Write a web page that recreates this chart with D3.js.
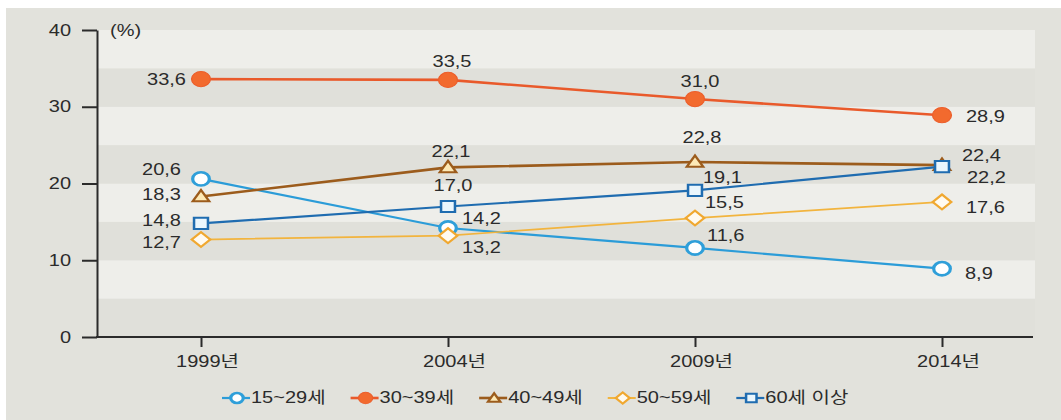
<!DOCTYPE html>
<html><head><meta charset="utf-8">
<script src="https://cdn.jsdelivr.net/npm/d3@7/dist/d3.min.js"></script>
<style>
html,body{margin:0;padding:0;background:#fff;}
svg{display:block;}
text{font-family:"Liberation Sans","Noto Sans CJK KR",Arial,sans-serif;fill:#2b2b2b;}
</style></head>
<body>
<svg id="chart" width="1061" height="420"></svg>
<script>
// ---- data ----
const years = ["1999", "2004", "2009", "2014"];
const yearLabels = ["1999년", "2004년", "2009년", "2014년"];
const seriesNames = ["15~29세", "30~39세", "40~49세", "50~59세", "60세 이상"];
const age15to29 = [20.6, 14.2, 11.6, 8.9];
const age30to39 = [33.6, 33.5, 31.0, 28.9];
const age40to49 = [18.3, 22.1, 22.8, 22.4];
const age50to59 = [12.7, 13.2, 15.5, 17.6];
const age60plus = [14.8, 17.0, 19.1, 22.2];
const yTicks = [0, 10, 20, 30, 40];

// ---- styles / label placement (not data) ----
const styles = [
  {line:"#2b9cd8", width:2.2, marker:"circle",   stroke:"#2f9fd9", fill:"#ffffff"},
  {line:"#e95a2b", width:2.6, marker:"dot",      stroke:"#ec5e2b", fill:"#f26a2e"},
  {line:"#9c5c1c", width:2.6, marker:"triangle", stroke:"#9c5c1c", fill:"#fde9b5"},
  {line:"#f2b43e", width:1.7, marker:"diamond",  stroke:"#f0a830", fill:"#fffaf0"},
  {line:"#1f6cb0", width:2.2, marker:"square",   stroke:"#1f6cb0", fill:"#eaf6fd"}
];
// [dx, dy, anchor]
const labelPlace = [
  [[-20,-9,"end"],[14,-9,"start"],[12,-12,"start"],[23,5,"start"]],
  [[-15,1,"end"],[4,-18,"middle"],[5,-17,"middle"],[24,2,"start"]],
  [[-20,-2,"end"],[3,-16,"middle"],[7,-24,"middle"],[20,-9,"start"]],
  [[-20,3,"end"],[14,12,"start"],[10,-15,"start"],[24,6,"start"]],
  [[-20,-3,"end"],[5,-21,"middle"],[8,-13,"start"],[25,11,"start"]]
];
const SX = 1.25; // horizontal stretch of the original picture

const allSeries = [age15to29, age30to39, age40to49, age50to59, age60plus];
const svg = d3.select("#chart");

// background
svg.append("rect").attr("x",6).attr("y",8).attr("width",1055).attr("height",412).attr("fill","#e2e2dc");

const x = d3.scalePoint().domain(years).range([201, 942]);
const y = d3.scaleLinear().domain([0, 40]).range([337, 30]);
const plotLeft = 97, plotRight = 1035;

// bands
svg.append("g").selectAll("rect").data(d3.range(0, 40, 5)).join("rect")
  .attr("x", plotLeft).attr("width", plotRight - plotLeft)
  .attr("y", d => y(d + 5)).attr("height", d => y(d) - y(d + 5))
  .attr("fill", d => (d / 5) % 2 === 0 ? "#e0e0da" : "#eeeeea");

// y axis
const yAxis = svg.append("g").attr("transform", `translate(${plotLeft},0)`)
  .call(d3.axisLeft(y).tickValues(yTicks).tickSize(15).tickSizeOuter(0).tickPadding(11));
yAxis.select(".domain").attr("stroke", "#2b2b2b").attr("stroke-width", 2);
yAxis.selectAll(".tick line").attr("stroke", "#2b2b2b").attr("stroke-width", 2);
yAxis.selectAll(".tick text").attr("font-size", 16).attr("fill", "#2b2b2b")
  .style("font-family", '"Liberation Sans","Noto Sans CJK KR",Arial,sans-serif')
  .each(function(){ const t = d3.select(this); t.attr("x", +t.attr("x") / SX).attr("transform", `scale(${SX},1)`); });

// unit
svg.append("text").attr("transform", `translate(110,36) scale(${SX},1)`).attr("font-size", 16).text("(%)");

// x axis
const xAxis = svg.append("g").attr("transform", `translate(0,${y(0)})`)
  .call(d3.axisBottom(x).tickSize(10).tickSizeOuter(0).tickPadding(9).tickFormat((d, i) => yearLabels[i]));
xAxis.select(".domain").remove();
xAxis.append("line").attr("x1", plotLeft - 1).attr("x2", 1033).attr("stroke", "#2b2b2b").attr("stroke-width", 2);
xAxis.selectAll(".tick line").attr("stroke", "#2b2b2b").attr("stroke-width", 2);
xAxis.selectAll(".tick text").attr("font-size", 16).attr("fill", "#2b2b2b")
  .style("font-family", '"Liberation Sans","Noto Sans CJK KR",Arial,sans-serif')
  .attr("x", 6 / SX).attr("transform", `scale(${SX},1)`);

function markerPath(kind, scale) {
  const s = scale || 1;
  if (kind === "circle") return d3.symbol(d3.symbolCircle, 140 * s * s)();
  if (kind === "dot") return d3.symbol(d3.symbolCircle, 180 * s * s)();
  if (kind === "triangle") return d3.symbol(d3.symbolTriangle, 75 * s * s)();
  if (kind === "square") return d3.symbol(d3.symbolSquare, 124 * s * s)();
  if (kind === "diamond") return d3.symbol(d3.symbolSquare, 110 * s * s)();
}
function markerTransform(kind, px, py) {
  let t = `translate(${px},${py}) scale(${SX},1)`;
  if (kind === "triangle") t = `translate(${px},${py + 1}) scale(${SX},1)`;
  if (kind === "diamond") t += " rotate(45)";
  return t;
}
function markerStroke(kind) { return kind === "dot" ? 1 : (kind === "circle" ? 2.6 : 2); }

const line = d3.line().x((d, i) => x(years[i])).y(d => y(d));

// lines
allSeries.forEach((vals, si) => {
  svg.append("path").datum(vals).attr("d", line)
    .attr("fill", "none").attr("stroke", styles[si].line).attr("stroke-width", styles[si].width);
});
// markers
allSeries.forEach((vals, si) => {
  const st = styles[si];
  svg.append("g").selectAll("path").data(vals).join("path")
    .attr("d", markerPath(st.marker))
    .attr("transform", (d, i) => markerTransform(st.marker, x(years[i]), y(d)))
    .attr("fill", st.fill).attr("stroke", st.stroke).attr("stroke-width", markerStroke(st.marker));
});
// value labels
allSeries.forEach((vals, si) => {
  svg.append("g").selectAll("text").data(vals).join("text")
    .attr("transform", (d, i) => `translate(${x(years[i]) + labelPlace[si][i][0]},${y(d) + labelPlace[si][i][1]}) scale(${SX},1)`)
    .attr("text-anchor", (d, i) => labelPlace[si][i][2])
    .attr("dominant-baseline", "central")
    .attr("font-size", 16)
    .text(d => d.toFixed(1).replace(".", ","));
});

// legend
const legend = svg.append("g");
let lx = 222;
const ly = 398;
seriesNames.forEach((name, si) => {
  const st = styles[si];
  const g = legend.append("g");
  g.append("line").attr("x1", lx).attr("x2", lx + 28).attr("y1", ly).attr("y2", ly)
    .attr("stroke", st.line).attr("stroke-width", Math.max(2, st.width));
  g.append("path").attr("d", markerPath(st.marker, 0.75))
    .attr("transform", markerTransform(st.marker, lx + 15, ly))
    .attr("fill", st.fill).attr("stroke", st.stroke).attr("stroke-width", markerStroke(st.marker));
  const t = g.append("text").attr("transform", `translate(${lx + 29},${ly}) scale(${SX},1)`)
    .attr("dominant-baseline", "central").attr("font-size", 16).text(name);
  const w = t.node().getComputedTextLength() * SX;
  lx = lx + 29 + w + 25;
});
</script>
</body></html>
